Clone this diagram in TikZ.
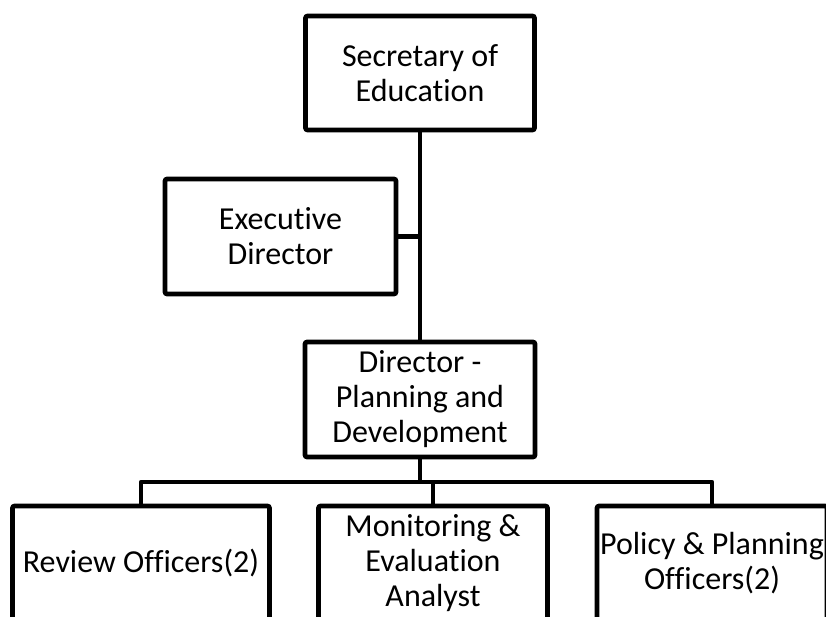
\documentclass[tikz,border=0pt]{standalone}
\usepackage{fontspec}
\setmainfont{Carlito}[Ligatures={NoCommon}]
\begin{document}
\begin{tikzpicture}[x=1pt,y=-1pt,
  box/.style={draw=black, line width=4.6pt, fill=white, rounded corners=2pt,
    inner sep=0pt, align=center, font=\fontsize{32}{35}\selectfont},
  conn/.style={draw=black, line width=4.6pt, line join=round}]
\useasboundingbox (0,0) rectangle (826,617);
\clip (0,0) rectangle (826,617);
% nodes
\node[box, minimum width=229pt, minimum height=114pt] (sec) at (420,73) {Secretary of\\Education};
\node[box, minimum width=231pt, minimum height=115pt] (exe) at (280.5,236.5) {Executive\\Director};
\node[box, minimum width=230pt, minimum height=115pt] (dir) at (420,399.5) {Director -\\Planning and\\Development};
\node[box, minimum width=257pt, minimum height=115pt] (rev) at (141,563.5) {Review Officers(2)};
\node[box, minimum width=229pt, minimum height=115pt] (mon) at (433,563.5) {Monitoring \&\\Evaluation\\Analyst};
\node[box, minimum width=230pt, minimum height=115pt] (pol) at (712,563.5) {Policy \& Planning\\Officers(2)};
% connectors
\coordinate (bus) at (420,482);
\draw[conn] (sec.south) -- (dir.north);
\draw[conn] (exe.east) -- (exe.east -| sec.south);
\draw[conn] (dir.south) -- (bus);
\draw[conn] (rev.north) |- (bus) -| (pol.north);
\draw[conn] (mon.north) -- (mon.north |- bus);
\end{tikzpicture}
\end{document}
